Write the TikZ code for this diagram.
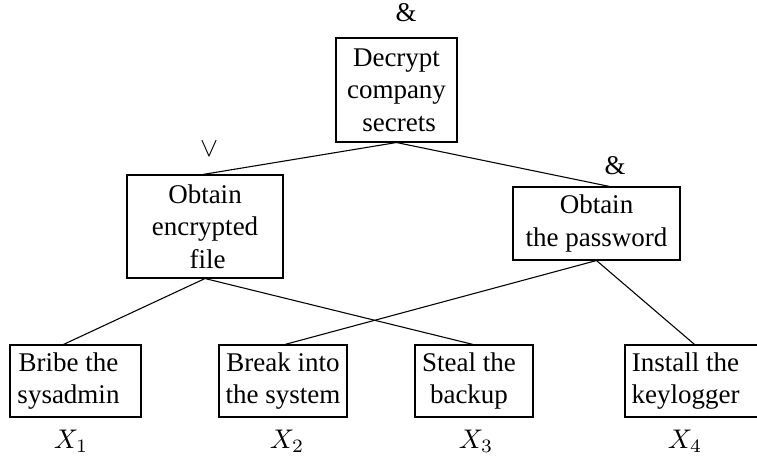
\documentclass[tikz,border=0pt]{standalone}
\usepackage{fontspec}
\setmainfont{Liberation Serif}
\newdimen\pxu \pxu=0.37037pt
\begin{document}
\begin{tikzpicture}[x=0.37037pt,y=-0.37037pt,
  box/.style={draw, line width=0.4pt, align=center, inner sep=0pt, font=\fontsize{10}{12}\selectfont},
  lbl/.style={inner sep=0pt, font=\fontsize{10}{12}\selectfont},
  edge/.style={line width=0.4pt}]
\useasboundingbox (0,0) rectangle (757,462);
% boxes
\node[box, minimum width=121\pxu, minimum height=104\pxu] (top) at (396.5,90) {Decrypt\\company\\\hspace*{2pt}secrets};
\node[box, minimum width=156\pxu, minimum height=103\pxu] (left) at (205,226.5) {Obtain\\encrypted\\\hspace*{2pt}file};
\node[box, minimum width=167\pxu, minimum height=73\pxu] (right) at (596.5,223.5) {Obtain\\the password};
\node[box, minimum width=131\pxu, minimum height=72\pxu] (b1) at (75.5,381) {Bribe the\hspace*{14\pxu}\\sysadmin\hspace*{14\pxu}};
\node[box, minimum width=128\pxu, minimum height=72\pxu] (b2) at (283,381) {Break into\\the system};
\node[box, minimum width=118\pxu, minimum height=72\pxu] (b3) at (474,381) {Steal the\hspace*{10\pxu}\\backup\hspace*{10\pxu}};
\node[box, minimum width=137\pxu, minimum height=72\pxu] (b4) at (693.5,381) {Install the\hspace*{16\pxu}\\keylogger\hspace*{16\pxu}};
% gate labels
\node[lbl] (g1) at (406,13) {$\&$};
\node[lbl] (g2) at (209,149) {$\vee$};
\node[lbl] (g3) at (615,166) {$\&$};
% leaf labels
\node[lbl] (x1) at (71,441) {$X_1$};
\node[lbl] (x2) at (287,441) {$X_2$};
\node[lbl] (x3) at (476,441) {$X_3$};
\node[lbl] (x4) at (685,441) {$X_4$};
% connectors
\draw[edge] (top.south) -- ([xshift=-2\pxu]left.north);
\draw[edge] (top.south) -- ([xshift=13\pxu]right.north);
\draw[edge] (left.south) -- ([xshift=-12\pxu]b1.north);
\draw[edge] (left.south) -- ([xshift=-1\pxu]b3.north);
\draw[edge] (right.south) -- ([xshift=2\pxu]b2.north);
\draw[edge] (right.south) -- ([xshift=1\pxu]b4.north);
\end{tikzpicture}
\end{document}
